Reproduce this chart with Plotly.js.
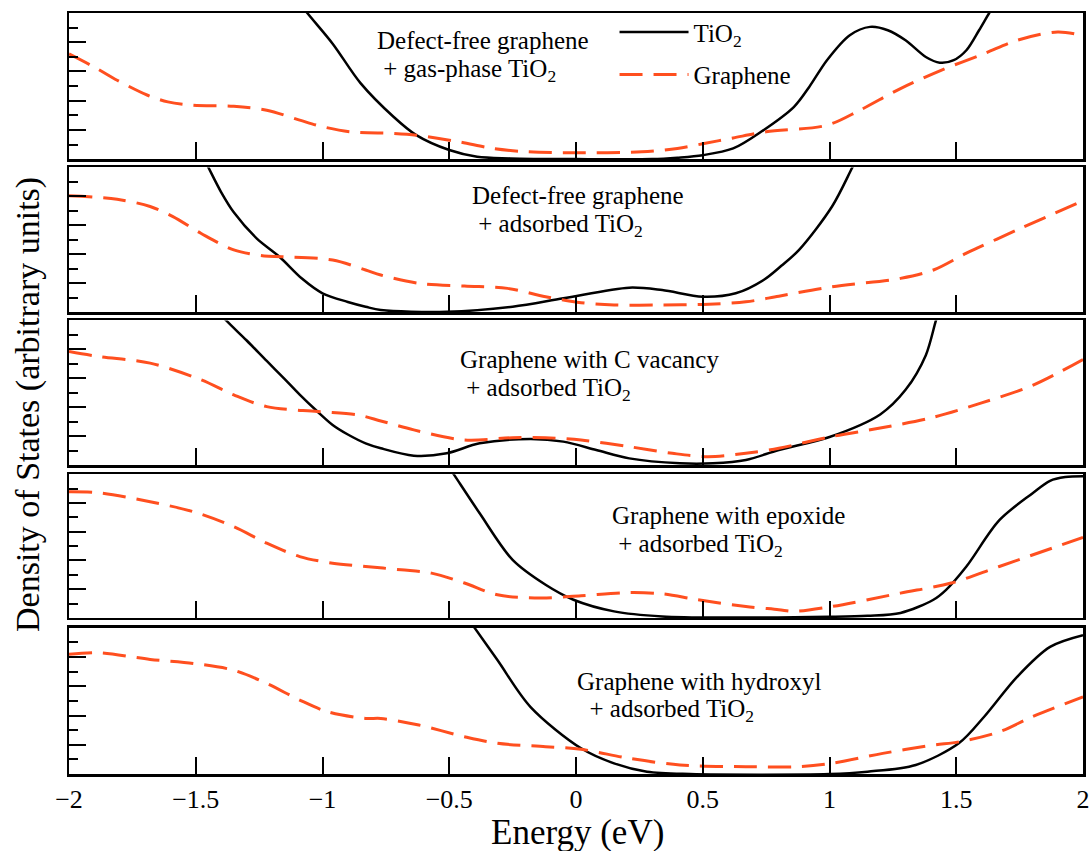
<!DOCTYPE html>
<html>
<head>
<meta charset="utf-8">
<script src="https://cdn.plot.ly/plotly-3.0.1.min.js"></script>
<style>html,body{margin:0;padding:0;background:#fff;}#chart{width:1091px;height:851px;}</style>
</head>
<body>
<div id="chart"></div>
<script>
// Panel 1: Defect-free graphene + gas-phase TiO2
const p1GrX = [-2.0,-1.89,-1.81,-1.69,-1.61,-1.51,-1.35,-1.22,-1.09,-1.01,-0.89,-0.72,-0.63,-0.46,-0.33,-0.19,0.0,0.26,0.40,0.50,0.62,0.75,0.99,1.12,1.28,1.44,1.61,1.74,1.90,2.0];
const p1GrY = [7.2,6.2,5.4,4.37,3.92,3.69,3.62,3.35,2.67,2.26,1.87,1.76,1.64,1.18,0.73,0.5,0.43,0.5,0.73,1.05,1.45,1.87,2.32,3.35,4.83,6.08,7.22,8.13,8.7,8.45];
const p1TiX = [-1.12,-1.06,-0.96,-0.85,-0.72,-0.63,-0.5,-0.39,-0.26,0.0,0.3,0.4,0.5,0.62,0.73,0.86,0.92,0.99,1.08,1.16,1.23,1.30,1.38,1.435,1.49,1.54,1.59,1.63,1.66];
const p1TiY = [11.35,10,7.9,5.2,2.9,1.64,0.62,0.16,0.05,0.0,0.0,0.1,0.27,0.73,1.87,3.58,4.94,6.77,8.48,9.05,8.82,8.13,6.99,6.6,6.77,7.45,8.82,10,10.8];

// Panel 2: Defect-free graphene + adsorbed TiO2
const p2GrX = [-2.0,-1.81,-1.68,-1.59,-1.48,-1.35,-1.23,-1.16,-0.96,-0.83,-0.77,-0.62,-0.44,-0.27,-0.12,0.02,0.15,0.34,0.50,0.67,0.80,1.01,1.28,1.41,1.54,1.74,2.0];
const p2GrY = [8.04,7.8,7.3,6.6,5.45,4.3,3.88,3.83,3.6,2.91,2.56,1.99,1.8,1.64,1.06,0.65,0.49,0.49,0.53,0.71,1.1,1.75,2.33,2.91,4.07,5.68,7.7];
const p2TiX = [-1.50,-1.45,-1.40,-1.35,-1.26,-1.17,-1.08,-1.0,-0.9,-0.83,-0.77,-0.51,-0.25,-0.05,0.21,0.34,0.50,0.63,0.74,0.81,0.88,1.01,1.09,1.12];
const p2TiY = [11.75,10,8.3,6.9,5.1,3.83,2.3,1.3,0.7,0.37,0.14,0.02,0.37,0.95,1.69,1.52,1.06,1.3,2.22,3.2,4.3,7.3,10,11.03];

// Panel 3: Graphene with C vacancy + adsorbed TiO2
const p3GrX = [-2.0,-1.88,-1.68,-1.48,-1.35,-1.22,-1.02,-0.86,-0.77,-0.64,-0.44,-0.25,-0.12,0.02,0.21,0.38,0.52,0.67,0.80,1.0,1.2,1.4,1.6,1.8,2.0];
const p3GrY = [7.85,7.5,7.05,5.9,4.85,4.04,3.7,3.46,3.05,2.43,1.73,1.89,1.89,1.73,1.27,0.81,0.58,0.81,1.16,1.94,2.56,3.26,4.3,5.5,7.3];
const p3TiX = [-1.42,-1.38,-1.30,-1.22,-1.15,-1.09,-1.02,-0.96,-0.90,-0.83,-0.77,-0.64,-0.51,-0.38,-0.18,-0.05,0.08,0.21,0.41,0.54,0.67,0.80,1.0,1.2,1.3,1.38,1.42,1.44];
const p3TiY = [10.78,10,8.63,7.2,5.96,4.87,3.7,2.77,2.11,1.5,1.16,0.65,0.81,1.5,1.8,1.62,1.04,0.46,0.12,0.12,0.35,1.04,1.94,3.5,5.2,7.6,10,11.04];

// Panel 4: Graphene with epoxide + adsorbed TiO2
const p4GrX = [-2.0,-1.88,-1.68,-1.51,-1.35,-1.22,-1.09,-0.96,-0.83,-0.69,-0.57,-0.44,-0.31,-0.14,0.02,0.21,0.34,0.48,0.67,0.80,0.86,1.01,1.28,1.48,1.67,2.0];
const p4GrY = [8.77,8.7,8.08,7.39,6.35,5.2,4.27,3.81,3.58,3.35,3.12,2.43,1.61,1.39,1.55,1.77,1.68,1.27,0.8,0.58,0.46,0.8,1.73,2.43,3.58,5.61];
const p4TiX = [-0.51,-0.48,-0.38,-0.25,-0.12,-0.01,0.15,0.34,0.6,1.0,1.15,1.28,1.41,1.46,1.54,1.67,1.80,1.87,1.93,2.0];
const p4TiY = [10.72,9.93,7.28,4.04,2.31,1.27,0.46,0.11,0.03,0.08,0.15,0.35,1.27,1.96,3.58,6.8,8.66,9.54,9.8,9.86];

// Panel 5: Graphene with hydroxyl + adsorbed TiO2
const p5GrX = [-2.0,-1.88,-1.68,-1.51,-1.35,-1.22,-1.09,-0.98,-0.83,-0.77,-0.62,-0.44,-0.31,-0.12,0.02,0.21,0.41,0.67,0.88,1.01,1.21,1.41,1.51,1.67,1.80,2.0];
const p5GrY = [8.2,8.3,7.84,7.57,7.1,6.2,5.06,4.26,3.8,3.8,3.35,2.55,2.1,1.87,1.69,1.07,0.62,0.5,0.5,0.73,1.41,1.98,2.2,2.89,3.92,5.28];
const p5TiX = [-0.43,-0.40,-0.31,-0.18,0.02,0.15,0.28,0.45,1.0,1.15,1.34,1.51,1.61,1.74,1.87,2.0];
const p5TiY = [10.73,10,7.8,4.6,1.76,0.73,0.16,0.0,0.0,0.16,0.62,2.1,3.92,6.65,8.7,9.5];

const panelLine1 = ["Defect-free graphene","Defect-free graphene","Graphene with C vacancy","Graphene with epoxide","Graphene with hydroxyl"];
const panelLine2 = ["\u00A0+ gas-phase TiO<sub>2</sub>","\u00A0+ adsorbed TiO<sub>2</sub>","\u00A0+ adsorbed TiO<sub>2</sub>","\u00A0+ adsorbed TiO<sub>2</sub>","\u00A0\u00A0+ adsorbed TiO<sub>2</sub>"];
const seriesNames = ["TiO<sub>2</sub>","Graphene"];
const xTickVals = [-2,-1.5,-1,-0.5,0,0.5,1,1.5,2];

const grX = [p1GrX,p2GrX,p3GrX,p4GrX,p5GrX];
const grY = [p1GrY,p2GrY,p3GrY,p4GrY,p5GrY];
const tiX = [p1TiX,p2TiX,p3TiX,p4TiX,p5TiX];
const tiY = [p1TiY,p2TiY,p3TiY,p4TiY,p5TiY];

// layout geometry (paper fractions)
const domains = [[0.808,1.0],[0.607,0.797],[0.406,0.596],[0.205,0.394],[0.0,0.192]];
const labelX = [-0.793,-0.418,-0.464,0.134,-0.004];
const labelY1 = [8.1,8.08,7.3,7.13,6.3];
const labelY2 = [6.05,6.0,5.22,5.05,4.35];

const FONT = "Liberation Serif, Times New Roman, serif";
const ORANGE = "#FF4F1F";

const traces = [];
const layout = {
  width:1091, height:851,
  margin:{l:69, r:8, t:13, b:77},
  paper_bgcolor:"#fff", plot_bgcolor:"#fff",
  font:{family:FONT, color:"#000", size:25},
  showlegend:true,
  legend:{x:0.538, y:1.005, xanchor:"left", yanchor:"top", bgcolor:"rgba(0,0,0,0)",
          font:{family:FONT, size:25, color:"#000"}, itemwidth:69, tracegroupgap:7},
  annotations:[], shapes:[]
};

for (let i=0;i<5;i++){
  const n = i+1;
  const xa = n===1 ? "x" : "x"+n;
  const ya = n===1 ? "y" : "y"+n;
  traces.push({x:tiX[i], y:tiY[i], xaxis:xa, yaxis:ya, type:"scatter", mode:"lines",
    name:seriesNames[0], legendgroup:"a", showlegend:i===0,
    line:{color:"#000", width:2.5, shape:"spline", smoothing:0.9}});
  traces.push({x:grX[i], y:grY[i], xaxis:xa, yaxis:ya, type:"scatter", mode:"lines",
    name:seriesNames[1], legendgroup:"b", showlegend:i===0,
    line:{color:ORANGE, width:3, shape:"spline", smoothing:0.9, dash:"23px,11px"}});
  layout["xaxis"+(n===1?"":n)] = {
    anchor:ya, domain:[0,1], range:[-2,2], tickvals:xTickVals,
    ticks:"inside", ticklen:17, tickwidth:2, tickcolor:"#000",
    showticklabels:n===5, tickfont:{family:FONT, size:26, color:"#000"},
    showline:true, linewidth:2.5, linecolor:"#000", mirror:true,
    showgrid:false, zeroline:false, fixedrange:true
  };
  layout["yaxis"+(n===1?"":n)] = {
    anchor:xa, domain:domains[i], range:[0,10], dtick:2, tick0:0,
    ticks:"inside", ticklen:17, tickwidth:2, tickcolor:"#000",
    minor:{dtick:1, tick0:0, ticks:"inside", ticklen:9, tickwidth:2, tickcolor:"#000", showgrid:false},
    showticklabels:false,
    showline:true, linewidth:2.5, linecolor:"#000", mirror:true,
    showgrid:false, zeroline:false, fixedrange:true
  };
  layout.annotations.push({xref:xa, yref:ya, x:labelX[i], y:labelY1[i], xanchor:"left", yanchor:"middle",
    text:panelLine1[i], showarrow:false, font:{family:FONT, size:25, color:"#000"}});
  layout.annotations.push({xref:xa, yref:ya, x:labelX[i], y:labelY2[i], xanchor:"left", yanchor:"middle",
    text:panelLine2[i], showarrow:false, font:{family:FONT, size:25, color:"#000"}});
}

layout.annotations.push({xref:"paper", yref:"paper", x:0.5015, y:-0.0775, xanchor:"center", yanchor:"middle",
  text:"Energy (eV)", showarrow:false, font:{family:FONT, size:35, color:"#000"}});
layout.annotations.push({xref:"paper", yref:"paper", x:-0.0404, y:0.485, xanchor:"center", yanchor:"middle",
  text:"Density of States (arbitrary units)", textangle:-90, showarrow:false, font:{family:FONT, size:34, color:"#000"}});

Plotly.newPlot("chart", traces, layout, {staticPlot:true, displayModeBar:false});
</script>
</body>
</html>
